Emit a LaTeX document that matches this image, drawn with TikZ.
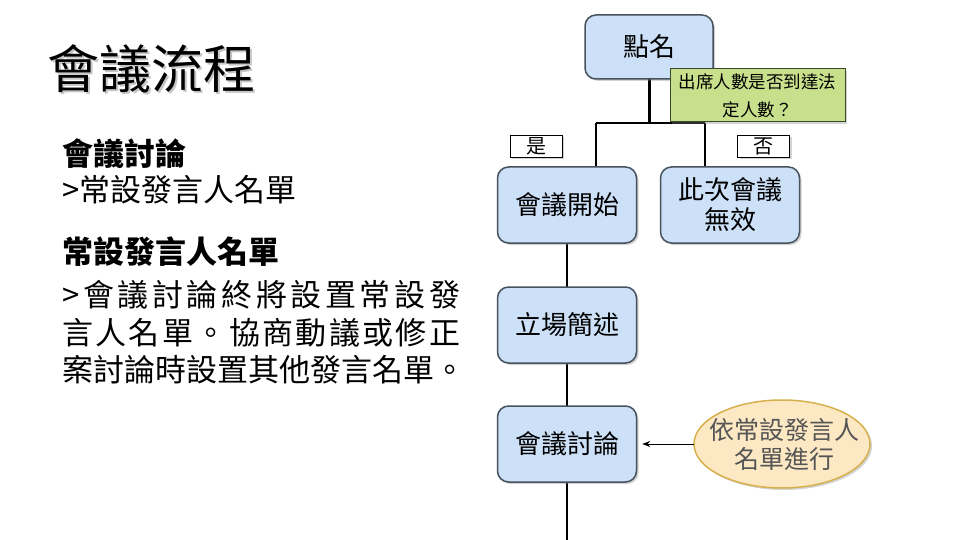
\documentclass[tikz,border=0pt]{standalone}
\usepackage{fontspec}
\setmainfont{Noto Sans CJK TC}
\usetikzlibrary{shapes.geometric,shadows,arrows.meta}
\definecolor{boxfill}{HTML}{CCE0F7}
\definecolor{boxline}{HTML}{46525E}
\definecolor{decfill}{HTML}{C8E08C}
\definecolor{decline}{HTML}{3A4A2A}
\definecolor{ellfill}{HTML}{FDE8C4}
\definecolor{ellline}{HTML}{D6B04C}
\definecolor{elltext}{HTML}{555555}
\begin{document}
\begin{tikzpicture}[x=1pt,y=-1pt,
  shad/.style={drop shadow={shadow xshift=2pt,shadow yshift=-2pt,opacity=0.35}},
  stepbox/.style={draw=boxline, line width=1.5pt, fill=boxfill, rounded corners=11pt,
    minimum width=139pt, minimum height=76pt, inner sep=0pt, align=center,
    font=\fontsize{26}{30}\selectfont, shad},
  decbox/.style={draw=decline, line width=1pt, fill=decfill, minimum width=175pt,
    minimum height=53pt, inner sep=0pt, align=center,
    font=\fontsize{17.5}{28}\selectfont, shad},
  lblbox/.style={draw=black, line width=0.8pt, fill=white, minimum width=52pt,
    minimum height=22pt, inner sep=0pt, font=\fontsize{20}{22}\selectfont, shad},
  flow/.style={draw=black, line width=2pt},
  lefttxt/.style={anchor=west, inner sep=0pt, font=\fontsize{31}{37}\selectfont},
  leftbold/.style={lefttxt, font=\fontsize{31}{37}\selectfont\bfseries}
]
\useasboundingbox (0,0) rectangle (960,540);

% left side text
\node[anchor=west, inner sep=0pt, font=\fontsize{52}{60}\selectfont] (title) at (47,70)
  {\rlap{\hspace{2.5pt}\raisebox{-2.5pt}{\color{gray!45}會議流程}}會議流程};
\node[leftbold] (h1) at (62,154) {會議討論};
\node[lefttxt] (t1) at (62,190) {>常設發言人名單};
\node[leftbold] (h2) at (62,252) {常設發言人名單};
\node[lefttxt] (p1) at (62,295) {\makebox[398pt][s]{>\hfill 會\hfill 議\hfill 討\hfill 論\hfill 終\hfill 將\hfill 設\hfill 置\hfill 常\hfill 設\hfill 發}};
\node[lefttxt] (p2) at (62,333) {\makebox[398pt][s]{言\hfill 人\hfill 名\hfill 單\hfill 。\hfill 協\hfill 商\hfill 動\hfill 議\hfill 或\hfill 修\hfill 正}};
\node[lefttxt] (p3) at (62,370) {案討論時設置其他發言名單。};

% coordinates for connectors
\coordinate (j) at (649,123);
\coordinate (jl) at (596,123);
\coordinate (jr) at (705,123);
\coordinate (bottom) at (567,540);

% flow box centres
\path (649,47) coordinate (rollc);
\path (567,205) coordinate (startc);
\path (730,205) coordinate (voidc);
\path (567,325) coordinate (posc);
\path (567,444) coordinate (discc);

% connectors first (behind boxes)
\draw[line width=3pt] (rollc) -- (j);
\draw[flow] (jl) -- (jr);
\draw[flow] (jl) -- (startc -| jl);
\draw[flow] (jr) -- (voidc -| jr);
\draw[flow] (startc) -- (posc);
\draw[flow] (posc) -- (discc);
\draw[flow] (discc) -- (bottom);

% boxes
\node[stepbox, minimum width=128pt, minimum height=64pt] (roll) at (rollc) {點名};
\node[decbox] (q) at (757.5,95.5) {出席人數是否到達法\\定人數？};
\node[lblbox] (yes) at (536,146) {是};
\node[lblbox] (no) at (763.5,146) {否};
\node[stepbox] (start) at (startc) {會議開始};
\node[stepbox] (void) at (voidc) {此次會議\\無效};
\node[stepbox] (pos) at (posc) {立場簡述};
\node[stepbox] (disc) at (discc) {會議討論};

% ellipse note
\path[draw=ellline, line width=1.5pt, fill=ellfill, shad] (782,444) ellipse [x radius=88, y radius=44];
\coordinate (notew) at (694,444);
\node[inner sep=0pt, align=center, text=elltext,
  font=\fontsize{25}{29}\selectfont] (note) at (784,444) {依常設發言人\\名單進行};
\draw[-{Stealth[length=8pt,width=6pt]}, line width=0.8pt, shorten >=5pt] (notew) -- (disc.east);
\end{tikzpicture}
\end{document}
